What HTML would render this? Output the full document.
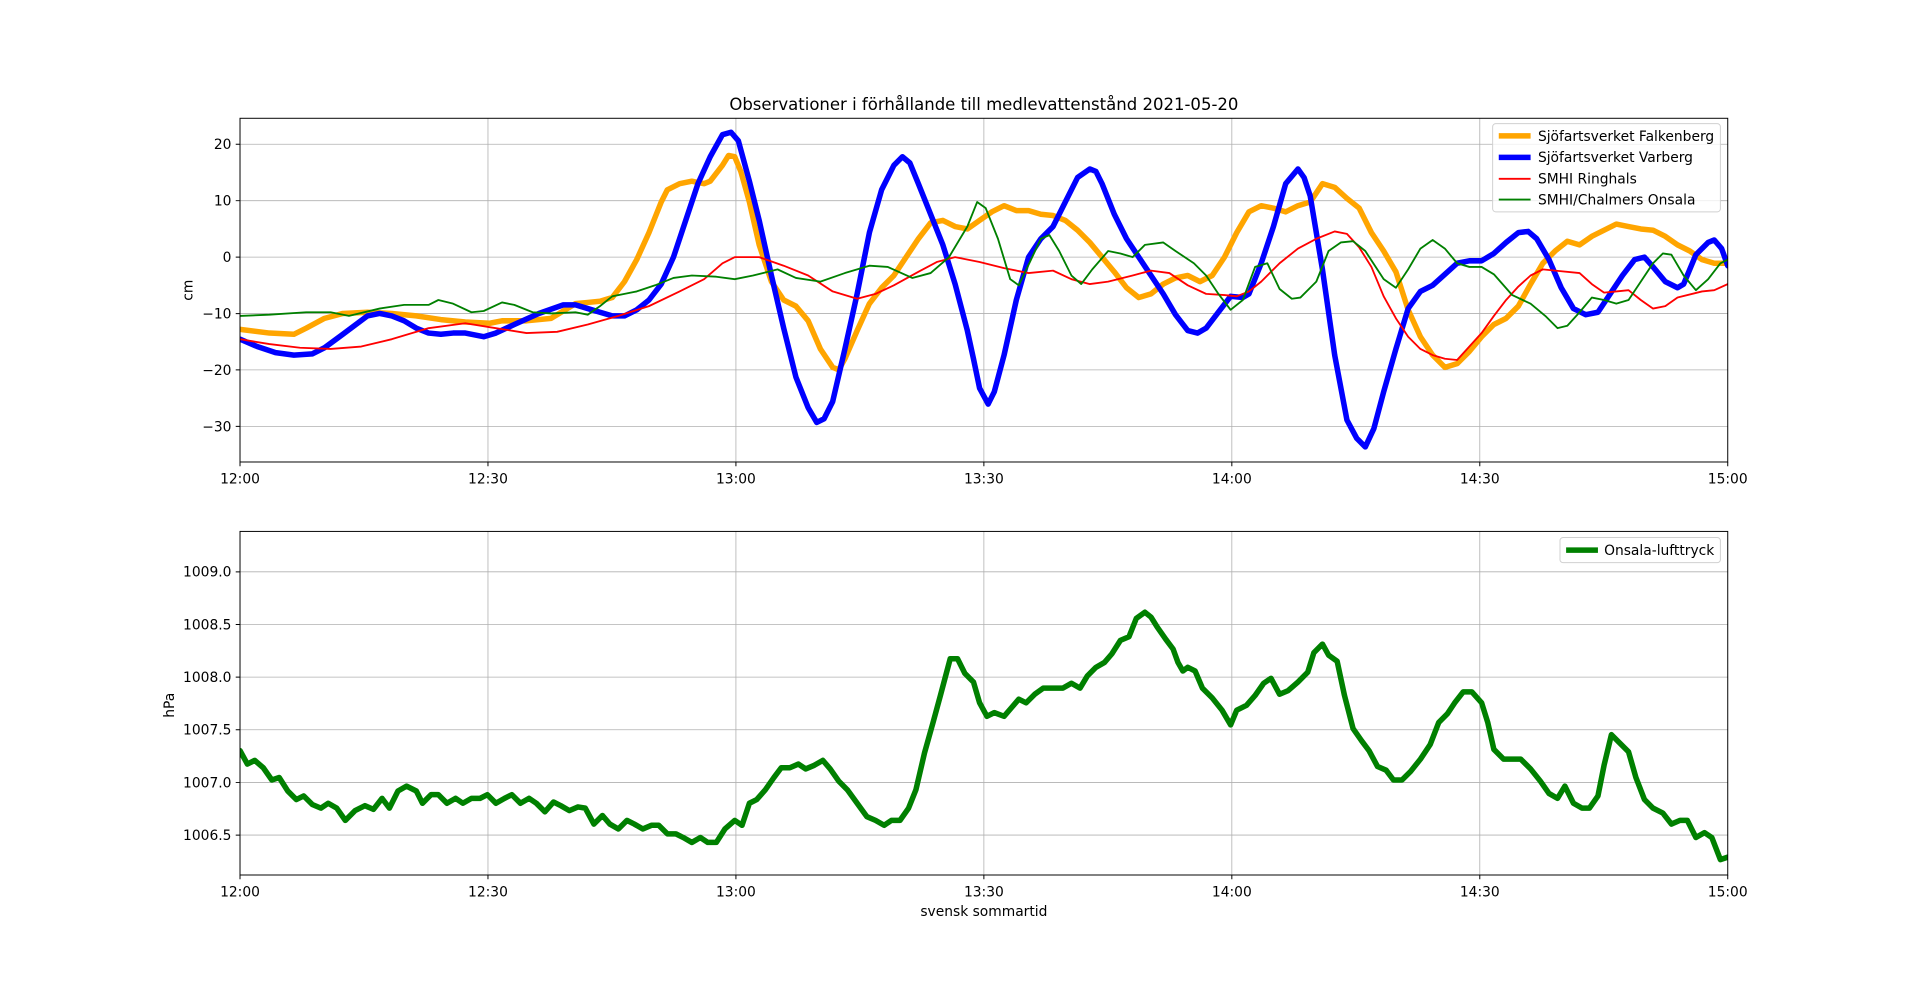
<!DOCTYPE html>
<html><head><meta charset="utf-8"><style>html,body{margin:0;padding:0;background:#fff;overflow:hidden}svg{display:block}text{font-family:"DejaVu Sans","Liberation Sans",sans-serif;font-size:11.3px;fill:#000}</style></head><body>
<svg width="1920" height="983" viewBox="0 0 1568 802.8" xmlns="http://www.w3.org/2000/svg">
<defs>
<clipPath id="c1"><rect x="196" y="96.6" width="1215" height="280.7"/></clipPath>
<clipPath id="c2"><rect x="196" y="434" width="1215" height="280.6"/></clipPath>
</defs>
<rect width="1568" height="803" fill="#fff"/>
<g stroke="#b0b0b0" stroke-width="0.65">
<line x1="196" y1="96.6" x2="196" y2="377.3"/><line x1="398.5" y1="96.6" x2="398.5" y2="377.3"/><line x1="601" y1="96.6" x2="601" y2="377.3"/><line x1="803.5" y1="96.6" x2="803.5" y2="377.3"/><line x1="1006" y1="96.6" x2="1006" y2="377.3"/><line x1="1208.5" y1="96.6" x2="1208.5" y2="377.3"/>
<line x1="196" y1="117.8" x2="1411" y2="117.8"/><line x1="196" y1="163.9" x2="1411" y2="163.9"/><line x1="196" y1="210" x2="1411" y2="210"/><line x1="196" y1="256.1" x2="1411" y2="256.1"/><line x1="196" y1="302.1" x2="1411" y2="302.1"/><line x1="196" y1="348.2" x2="1411" y2="348.2"/>
<line x1="398.5" y1="434" x2="398.5" y2="714.6"/><line x1="601" y1="434" x2="601" y2="714.6"/><line x1="803.5" y1="434" x2="803.5" y2="714.6"/><line x1="1006" y1="434" x2="1006" y2="714.6"/><line x1="1208.5" y1="434" x2="1208.5" y2="714.6"/>
<line x1="196" y1="467" x2="1411" y2="467"/><line x1="196" y1="510" x2="1411" y2="510"/><line x1="196" y1="553" x2="1411" y2="553"/><line x1="196" y1="596" x2="1411" y2="596"/><line x1="196" y1="639" x2="1411" y2="639"/><line x1="196" y1="682" x2="1411" y2="682"/>
</g>
<g clip-path="url(#c1)" fill="none" stroke-linejoin="round" stroke-linecap="round">
<polyline stroke="#ffa500" stroke-width="4.5" points="196,269 220,272 240,273 250,268 265,260 280,256 300,255 320,256 340,258 360,261 380,263 400,264 410,262 430,262 450,260 470,248 480,247 490,246 500,243 510,230 520,212 530,190 540,165 545,155 555,150 565,148 575,150 580,148 590,135 595,127 600,128 605,140 612,165 620,200 630,230 640,245 650,250 660,262 670,285 680,300 685,302 690,293 700,270 710,248 720,235 730,225 740,210 750,195 760,182 770,180 780,185 790,187 800,180 810,173 820,168 830,172 840,172 850,175 860,176 870,180 880,188 890,198 900,210 910,222 920,235 930,243 940,240 950,232 960,227 970,225 980,230 990,225 1000,210 1010,190 1020,173 1030,168 1040,170 1050,173 1060,168 1070,165 1080,150 1090,153 1100,162 1110,170 1120,190 1130,205 1140,222 1150,253 1160,275 1170,290 1180,300 1190,297 1200,287 1210,275 1220,265 1230,260 1240,250 1250,232 1260,215 1270,205 1280,197 1290,200 1300,193 1310,188 1320,183 1330,185 1340,187 1350,188 1360,193 1370,200 1380,205 1390,212 1400,215 1411,215"/>
<polyline stroke="#0000ff" stroke-width="4.5" points="196,277 210,283 225,288 240,290 255,289 265,284 280,273 300,258 310,256 320,258 330,262 340,268 350,272 360,273 370,272 380,272 395,275 405,272 420,265 440,256 460,249 470,249 480,252 490,255 500,258 510,258 520,253 530,245 540,232 550,210 560,180 570,150 580,128 590,110 597,108 603,115 612,148 620,180 630,225 640,268 650,308 660,333 667,345 673,342 680,328 690,285 700,240 710,190 720,155 730,135 737,128 743,133 750,150 760,175 770,200 780,232 790,270 795,293 800,317 807,330 812,320 820,290 830,245 840,210 850,195 860,185 870,165 880,145 890,138 895,140 900,150 910,175 920,195 930,210 940,225 950,240 960,257 970,270 978,272 985,268 995,255 1005,242 1015,243 1020,240 1030,215 1040,185 1050,150 1060,138 1065,145 1070,160 1080,220 1090,290 1100,343 1108,358 1115,365 1122,350 1130,320 1140,285 1150,252 1160,238 1170,233 1180,224 1190,215 1200,213 1210,213 1220,207 1230,198 1240,190 1248,189 1255,195 1265,212 1275,235 1285,252 1295,257 1305,255 1315,240 1325,225 1335,212 1343,210 1350,218 1360,230 1370,235 1375,232 1385,208 1395,198 1400,196 1406,203 1411,217"/>
<polyline stroke="#ff0000" stroke-width="1.5" points="196,277 220,281 245,284 270,285 295,283 320,277 350,268 380,264 405,268 430,272 455,271 480,265 505,258 530,250 555,238 575,228 590,215 600,210 620,210 640,217 660,225 680,238 700,244 715,240 730,233 750,222 765,214 780,210 800,214 820,219 840,223 860,221 875,228 890,232 905,230 925,225 940,221 955,223 970,233 985,240 1000,241 1010,242 1020,238 1030,230 1045,215 1060,203 1075,195 1090,189 1100,191 1110,202 1120,218 1130,242 1140,260 1150,275 1160,285 1170,290 1180,293 1190,294 1200,283 1210,272 1220,258 1230,245 1240,234 1250,225 1260,220 1270,221 1290,223 1300,232 1310,239 1320,238 1330,237 1340,245 1350,252 1360,250 1370,243 1390,238 1400,237 1411,232"/>
<polyline stroke="#008000" stroke-width="1.5" points="196,258 220,257 250,255 270,255 285,258 310,252 330,249 350,249 358,245 370,248 385,255 395,254 410,247 420,249 435,255 450,256 470,255 480,257 490,250 500,242 510,240 520,238 535,233 550,227 565,225 585,226 600,228 615,225 635,220 650,227 670,230 690,223 710,217 725,218 745,227 760,223 775,210 790,185 798,165 805,170 815,195 825,228 832,233 842,212 850,195 857,192 865,205 875,225 883,232 892,220 905,205 915,207 925,210 935,200 950,198 960,205 975,215 985,225 995,240 1005,253 1015,245 1025,218 1035,215 1045,236 1055,244 1062,243 1075,230 1085,205 1095,198 1105,197 1115,205 1130,228 1140,235 1150,220 1160,203 1170,196 1180,203 1190,215 1200,218 1210,218 1220,224 1235,241 1250,248 1262,258 1272,268 1280,266 1290,255 1300,243 1310,245 1320,248 1330,245 1340,230 1350,215 1358,207 1365,208 1375,225 1385,237 1395,228 1405,215 1411,212"/>
</g>
<g clip-path="url(#c2)" fill="none" stroke-linejoin="round" stroke-linecap="round">
<polyline stroke="#008000" stroke-width="4.5" points="196,613 202,624 208,621 215,627 222,637 228,635 235,646 242,653 248,650 255,657 262,660 268,656 275,660 282,670 290,662 298,658 305,661 312,652 318,660 325,646 332,642 340,646 345,656 352,649 358,649 365,656 372,652 378,656 385,652 392,652 398,649 405,656 412,652 418,649 425,656 432,652 438,656 445,663 452,655 458,658 465,662 472,659 478,660 485,673 492,666 498,673 505,677 512,670 518,673 525,677 532,674 538,674 545,681 552,681 558,684 565,688 572,684 578,688 585,688 592,677 600,670 606,674 612,656 618,653 625,645 632,635 638,627 645,627 652,624 658,628 665,625 672,621 678,628 685,638 692,645 700,656 708,667 715,670 722,674 728,670 735,670 742,660 748,645 755,615 762,590 768,568 772,553 776,538 782,538 788,550 795,557 800,574 806,585 812,582 820,585 826,578 832,571 838,574 845,567 852,562 860,562 868,562 875,558 882,562 888,552 895,545 902,541 908,534 915,523 922,520 928,505 935,500 940,504 945,512 952,522 958,530 962,541 966,548 970,545 976,548 982,562 990,570 998,580 1005,592 1010,580 1018,576 1025,568 1032,558 1038,554 1045,567 1052,564 1060,557 1068,549 1073,533 1080,526 1085,535 1092,540 1098,568 1105,595 1112,605 1118,613 1125,626 1132,629 1138,637 1145,637 1152,630 1160,620 1168,608 1175,590 1182,583 1188,574 1195,565 1202,565 1210,574 1215,590 1220,612 1228,620 1235,620 1242,620 1250,628 1258,638 1265,648 1272,652 1278,642 1285,656 1292,660 1298,660 1305,650 1310,625 1316,600 1322,606 1330,614 1336,635 1343,653 1350,660 1358,664 1365,673 1372,670 1378,670 1385,684 1392,680 1398,684 1405,702 1411,700"/>
</g>
<g fill="none" stroke="#000" stroke-width="0.8">
<rect x="196" y="96.6" width="1215" height="280.7"/>
<rect x="196" y="434" width="1215" height="280.6"/>
<path d="M196,377.3v3.5M398.5,377.3v3.5M601,377.3v3.5M803.5,377.3v3.5M1006,377.3v3.5M1208.5,377.3v3.5M1411,377.3v3.5M196,714.6v3.5M398.5,714.6v3.5M601,714.6v3.5M803.5,714.6v3.5M1006,714.6v3.5M1208.5,714.6v3.5M1411,714.6v3.5"/>
<path d="M196,117.8h-3.5M196,163.9h-3.5M196,210h-3.5M196,256.1h-3.5M196,302.1h-3.5M196,348.2h-3.5M196,467h-3.5M196,510h-3.5M196,553h-3.5M196,596h-3.5M196,639h-3.5M196,682h-3.5"/>
</g>
<g text-anchor="end">
<text x="189" y="121.8">20</text><text x="189" y="167.9">10</text><text x="189" y="214">0</text><text x="189" y="260.1">−10</text><text x="189" y="306.1">−20</text><text x="189" y="352.2">−30</text>
<text x="189" y="471">1009.0</text><text x="189" y="514">1008.5</text><text x="189" y="557">1008.0</text><text x="189" y="600">1007.5</text><text x="189" y="643">1007.0</text><text x="189" y="686">1006.5</text>
</g>
<g text-anchor="middle">
<text x="196" y="395">12:00</text><text x="398.5" y="395">12:30</text><text x="601" y="395">13:00</text><text x="803.5" y="395">13:30</text><text x="1006" y="395">14:00</text><text x="1208.5" y="395">14:30</text><text x="1411" y="395">15:00</text>
<text x="196" y="732">12:00</text><text x="398.5" y="732">12:30</text><text x="601" y="732">13:00</text><text x="803.5" y="732">13:30</text><text x="1006" y="732">14:00</text><text x="1208.5" y="732">14:30</text><text x="1411" y="732">15:00</text>
<text x="803.5" y="748">svensk sommartid</text>
<text x="803.5" y="90" style="font-size:13.5px">Observationer i förhållande till medlevattenstånd 2021-05-20</text>
<text transform="translate(157,237) rotate(-90)">cm</text>
<text transform="translate(142,576) rotate(-90)">hPa</text>
</g>
<rect x="1219" y="101" width="186" height="72" rx="2.5" fill="#fff" fill-opacity="0.8" stroke="#d0d0d0" stroke-width="0.8"/>
<g stroke-linecap="butt">
<line x1="1224" y1="111" x2="1250" y2="111" stroke="#ffa500" stroke-width="4.5"/>
<line x1="1224" y1="128.5" x2="1250" y2="128.5" stroke="#0000ff" stroke-width="4.5"/>
<line x1="1224" y1="146" x2="1250" y2="146" stroke="#ff0000" stroke-width="1.5"/>
<line x1="1224" y1="163" x2="1250" y2="163" stroke="#008000" stroke-width="1.5"/>
</g>
<text x="1256" y="115">Sjöfartsverket Falkenberg</text>
<text x="1256" y="132.5">Sjöfartsverket Varberg</text>
<text x="1256" y="150">SMHI Ringhals</text>
<text x="1256" y="167">SMHI/Chalmers Onsala</text>
<rect x="1274" y="439" width="131" height="20.5" rx="2.5" fill="#fff" fill-opacity="0.8" stroke="#d0d0d0" stroke-width="0.8"/>
<line x1="1279" y1="449.3" x2="1305" y2="449.3" stroke="#008000" stroke-width="4.5"/>
<text x="1310" y="453.3">Onsala-lufttryck</text>
</svg>
</body></html>
